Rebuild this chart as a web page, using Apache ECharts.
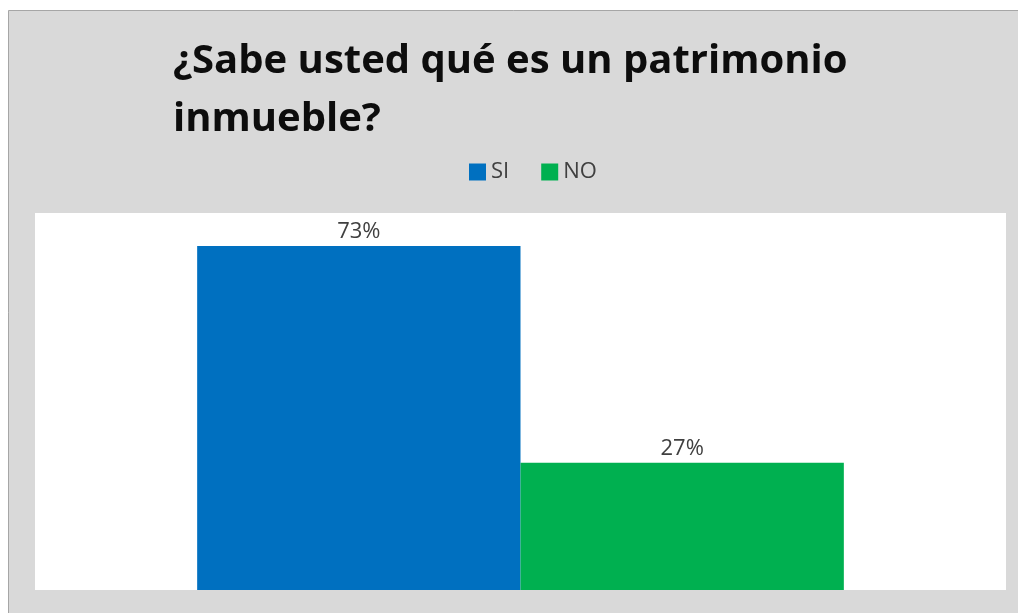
<!DOCTYPE html>
<html>
<head>
<meta charset="utf-8">
<script src="https://cdn.jsdelivr.net/npm/echarts@6/dist/echarts.min.js"></script>
<style>
html,body{margin:0;padding:0;background:#fff;}
#chart{width:1018px;height:613px;}
</style>
</head>
<body>
<div id="chart"></div>
<script>
const categories = [''];
const seriesNames = ['SI', 'NO'];
const siValues = [0.73];
const noValues = [0.27];
const titleText = '¿Sabe usted qué es un patrimonio\ninmueble?';

const chart = echarts.init(document.getElementById('chart'), null, {renderer: 'canvas'});
const labelStyle = {
  show: true,
  position: 'top',
  distance: 3,
  color: '#404040',
  fontSize: 22,
  fontFamily: 'Open Sans',
  formatter: p => Math.round(p.value * 100) + '%'
};
chart.setOption({
  backgroundColor: '#ffffff',
  animation: false,
  graphic: [{
    type: 'rect',
    z: -10,
    silent: true,
    shape: {x: 8.5, y: 10.5, width: 1020, height: 610},
    style: {fill: '#d9d9d9', stroke: '#a6a6a6', lineWidth: 1}
  }],
  title: {
    text: titleText,
    left: 168,
    top: 28,
    textStyle: {
      fontFamily: 'Open Sans',
      fontWeight: 'bold',
      fontSize: 40,
      lineHeight: 58,
      color: '#0d0d0d'
    }
  },
  legend: {
    data: seriesNames,
    top: 156,
    left: 464,
    itemWidth: 17,
    itemHeight: 17,
    itemGap: 32,
    icon: 'rect',
    textStyle: {fontFamily: 'Open Sans', fontSize: 22, color: '#404040'}
  },
  grid: {
    left: 35, top: 213, width: 971, height: 377,
    show: true, backgroundColor: '#ffffff', borderWidth: 0
  },
  xAxis: {
    type: 'category',
    data: categories,
    axisLine: {show: false},
    axisTick: {show: false},
    axisLabel: {show: false}
  },
  yAxis: {
    type: 'value',
    min: 0, max: 0.8,
    show: false,
    splitLine: {show: false}
  },
  series: [
    {name: seriesNames[0], type: 'bar', data: siValues, barGap: '0%', barCategoryGap: '33.4%',
     itemStyle: {color: '#0070c0'}, label: labelStyle},
    {name: seriesNames[1], type: 'bar', data: noValues, barGap: '0%', barCategoryGap: '33.4%',
     itemStyle: {color: '#00b050'}, label: labelStyle}
  ]
});
</script>
</body>
</html>
